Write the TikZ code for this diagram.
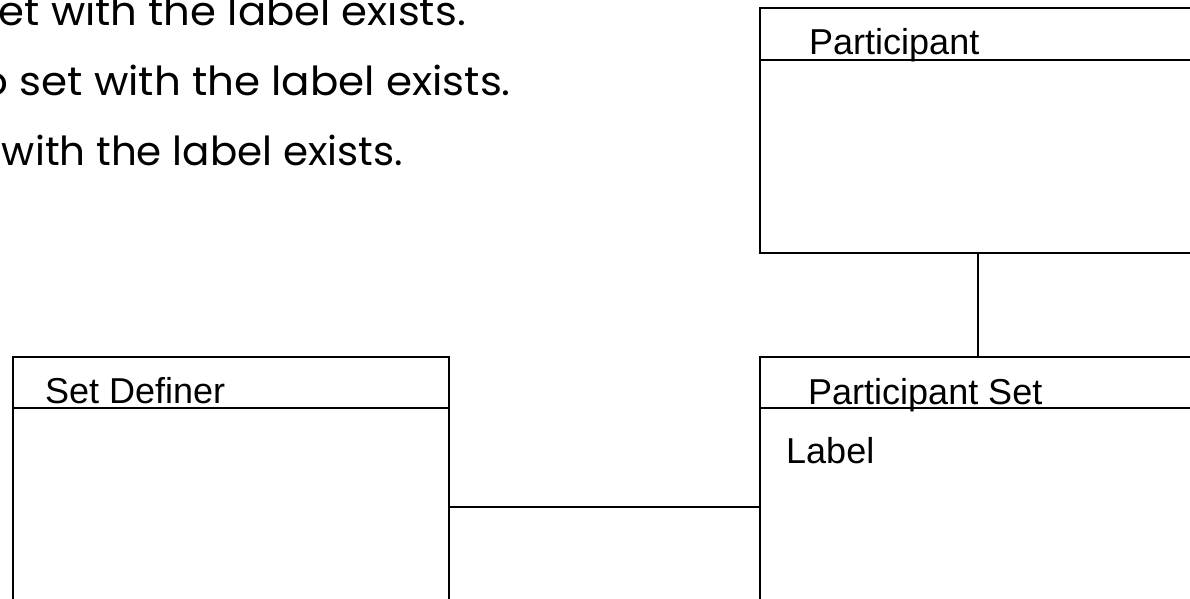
\documentclass[tikz,border=0pt]{standalone}
\usepackage{fontspec}
\setmainfont{Liberation Sans}
\newfontfamily\comicfont{Poppins}
\begin{document}
\begin{tikzpicture}[x=1pt,y=-1pt,
  classbox/.style={draw=black,line width=2pt,rectangle,inner sep=0pt,minimum width=436pt},
  conn/.style={draw=black,line width=2pt},
  umltext/.style={inner sep=0pt,font=\fontsize{36}{40}\selectfont},
  notetext/.style={inner sep=0pt,anchor=base east,font=\comicfont\fontsize{40}{46}\selectfont}]
\useasboundingbox (0,0) rectangle (1190,598);
\clip (0,0) rectangle (1190,598);
\fill[white] (0,0) rectangle (1190,598);
% note text
\node[notetext] (n1) at (466,25) {\scalebox{1.045}[1]{et with the label exists.}};
\node[notetext] (n2) at (511,95) {\scalebox{1.05}[1]{o set with the label exists.}};
\node[notetext] (n3) at (403,165) {\scalebox{1.01}[1]{with the label exists.}};
% boxes
\node[classbox,minimum height=245pt] (part) at (978,130.5) {};
\node[classbox,minimum height=300pt] (ps) at (978,507) {};
\node[classbox,minimum height=300pt] (sd) at (231,507) {};
% compartments
\draw[conn] ([yshift=-53pt]part.north west) -- ([yshift=-53pt]part.north east);
\draw[conn] ([yshift=-52pt]ps.north west) -- ([yshift=-52pt]ps.north east);
\draw[conn] ([yshift=-52pt]sd.north west) -- ([yshift=-52pt]sd.north east);
% labels
\node[umltext,anchor=base west] (tpart) at (809,54) {Participant};
\node[umltext,anchor=base west] (tps) at (808,404) {Participant Set};
\node[umltext,anchor=base west] (tsd) at (45,403) {Set Definer};
\node[umltext,anchor=base west] (tlabel) at (786,463) {Label};
% connectors
\draw[conn] (part.south) -- (ps.north);
\draw[conn] (sd.east) -- (ps.west);
\end{tikzpicture}
\end{document}
